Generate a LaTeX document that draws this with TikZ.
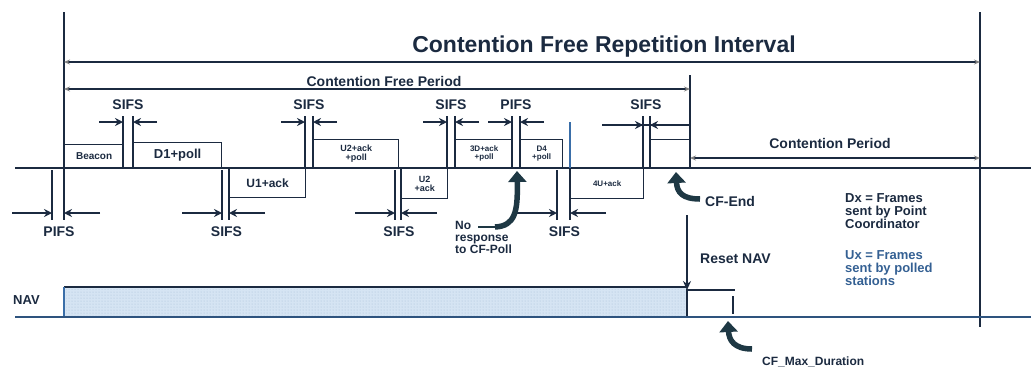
\documentclass[tikz,border=0pt]{standalone}
\usepackage{fontspec}
\setmainfont{Liberation Sans}
\usetikzlibrary{arrows.meta,patterns}
\definecolor{navy}{HTML}{1B2A40}
\definecolor{mblue}{HTML}{3A6EA8}
\definecolor{lblue}{HTML}{D5E4F3}
\definecolor{arrowc}{HTML}{1E3844}
\newcommand\myfs[1]{\fontsize{#1}{#1}\selectfont\bfseries}
\begin{document}
\begin{tikzpicture}[x=1pt,y=-1pt,
  frame/.style={draw=navy, line width=1.3pt, inner sep=0pt, align=center, text=navy, font=\myfs{8}},
  gapline/.style={draw=navy, line width=1.6pt},
  tick/.style={draw=navy, line width=1.4pt, -{Stealth[length=8pt,width=8pt]}},
  span/.style={draw=navy, line width=1.2pt, {Stealth[length=6pt,width=5pt,gray]}-{Stealth[length=6pt,width=5pt,gray]}},
  lbl/.style={text=navy, font=\myfs{14}, inner sep=0pt},
  txt/.style={text=navy, font=\myfs{13}, inner sep=0pt, align=left},
  bigarrow/.style={draw=arrowc, line width=5.5pt, -{Triangle[length=11pt,width=18pt]}},
  base/.style={draw=navy, line width=2pt}
]
\useasboundingbox (0,0) rectangle (1031,373);
% main vertical lines
\draw[navy, line width=1.8pt] (64,12) -- (64,220);
\draw[navy, line width=1.6pt] (980,12) -- (980,327);
\draw[navy, line width=1.6pt] (690,75) -- (690,168);
% title and spans
\node[text=navy, font=\myfs{23}, inner sep=0pt] (title) at (604,47) {Contention Free Repetition Interval};
\coordinate (cfrL) at (64,62); \coordinate (cfrR) at (980,62);
\draw[span] (cfrL) -- (cfrR);
\node[text=navy, font=\myfs{14}, inner sep=0pt] (cfp) at (384,81) {Contention Free Period};
\coordinate (cfpL) at (64,89); \coordinate (cfpR) at (690,89);
\draw[span] (cfpL) -- (cfpR);
\node[text=navy, font=\myfs{14}, inner sep=0pt] (cp) at (830,143) {Contention Period};
\coordinate (cpL) at (690,158); \coordinate (cpR) at (980,158);
\draw[span] (cpL) -- (cpR);
% baseline
\draw[base] (15,168) -- (1031,168);
% frames above
\node[frame, minimum width=59, minimum height=23, anchor=south west, font=\myfs{10}] (beacon) at (64,168) {Beacon};
\node[frame, minimum width=88, minimum height=25, anchor=south west, font=\myfs{13}] (d1) at (133,168) {D1+poll};
\node[frame, minimum width=85, minimum height=28, anchor=south west, font=\myfs{9}] (d2) at (313,168) {U2+ack\\+poll};
\node[frame, minimum width=57, minimum height=28, anchor=south west, font=\myfs{8}] (d3) at (455,168) {3D+ack\\+poll};
\node[frame, minimum width=42, minimum height=28, anchor=south west, font=\myfs{8}] (d4) at (520,168) {D4\\+poll};
\node[frame, minimum width=40, minimum height=28, anchor=south west] (cfend) at (650,168) {};
% frames below
\node[frame, minimum width=76, minimum height=29, anchor=north west, font=\myfs{12}] (u1) at (229,168) {U1+ack};
\node[frame, minimum width=46, minimum height=30, anchor=north west, font=\myfs{9}] (u2) at (401,168) {U2\\+ack};
\node[frame, minimum width=73, minimum height=30, anchor=north west, font=\myfs{8}] (u4) at (570,168) {4U+ack};
% upper gap markers
\foreach \a/\b/\lab in {123/133/SIFS, 305/313/SIFS, 447/455/SIFS, 512/520/PIFS} {
  \draw[gapline] (\a,116) -- (\a,168);
  \draw[gapline] (\b,116) -- (\b,168);
  \draw[tick] (\a-24,122) -- (\a,122);
  \draw[tick] (\b+24,122) -- (\b,122);
  \node[lbl] at ({(\a+\b)/2},105) {\lab};
}
\draw[gapline] (643,116) -- (643,168);
\draw[gapline] (650,116) -- (650,168);
\draw[navy, line width=1.4pt] (602,125) -- (690,125);
\draw[tick] (625,125) -- (643,125);
\draw[tick] (668,125) -- (650,125);
\node[lbl] at (646,105) {SIFS};
\draw[draw=mblue, line width=1.8pt] (570,122) -- (570,168);
% lower gap markers
\foreach \a/\b/\lab in {52/64/PIFS, 222/229/SIFS, 395/401/SIFS, 557/570/SIFS} {
  \draw[gapline] (\a,170) -- (\a,220);
  \draw[gapline] (\b,168) -- (\b,220);
  \draw[tick] (\a-40,213) -- (\a,213);
  \draw[tick] (\b+36,213) -- (\b,213);
  \node[lbl] at ({(\a+\b)/2+1},232) {\lab};
}
% no response arrow
\node[txt, font=\myfs{12}, anchor=north west] (noresp) at (455,221) {No\\response\\to CF-Poll};
\coordinate (nrs) at (478,227);
\coordinate (nrt) at (517,171);
\draw[arrowc, line width=1.8pt] (nrs) -- (495,227);
\draw[bigarrow] (495,227) .. controls (515,226) and (518,212) .. (nrt);
% CF-End arrow
\node[txt, font=\myfs{14}, anchor=west] (cfendlbl) at (705,201) {CF-End};
\coordinate (cet) at (676,172);
\draw[bigarrow] (700,199) .. controls (682,199) and (677,192) .. (cet);
% legend
\node[txt, anchor=north west] (legd) at (845,193) {Dx = Frames\\sent by Point\\Coordinator};
\node[txt, anchor=north west, text=mblue!80!navy] (legu) at (845,250) {Ux = Frames\\sent by polled\\stations};
% NAV
\node[txt, anchor=west] (navlbl) at (13,300) {NAV};
\fill[lblue] (64,287) rectangle (687,316);
\fill[pattern=dots, pattern color=mblue!45] (66,289) rectangle (686,315);
\draw[navy, line width=1.6pt] (64,287) -- (687,287);
\draw[mblue, line width=1.6pt] (64,287) -- (64,316);
\coordinate (navtl) at (687,290);
\coordinate (navtr) at (735,290);
\draw[navy, line width=1.5pt] (687,316) -- (navtl) -- (navtr);
\draw[navy, line width=1.5pt] (733,296) -- (733,314);
\draw[base, draw=mblue!60!navy] (15,317) -- (1031,317);
% Reset NAV
\node[txt, font=\myfs{14}, anchor=west] (reset) at (700,259) {Reset NAV};
\coordinate (rtop) at (687,215);
\draw[navy, line width=1.5pt, -{Stealth[length=9pt,width=8pt]}] (rtop) -- (navtl);
% CF max duration
\node[txt, font=\myfs{12}, anchor=west] (cfmax) at (762,362) {CF\_Max\_Duration};
\coordinate (cmt) at (728,321);
\draw[bigarrow] (752,349) .. controls (734,349) and (729,340) .. (cmt);
\end{tikzpicture}
\end{document}
